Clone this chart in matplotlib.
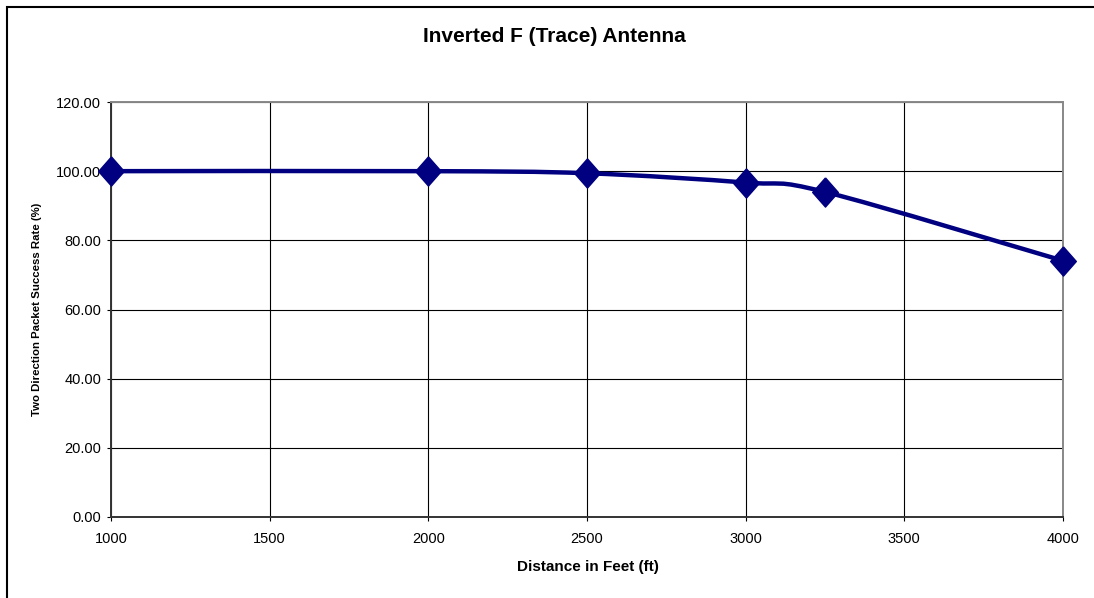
import matplotlib
matplotlib.use("Agg")
import matplotlib.pyplot as plt
import numpy as np
from matplotlib.path import Path
from matplotlib.patches import PathPatch, Rectangle
from matplotlib.ticker import FormatStrFormatter

plt.rcParams['font.family'] = ['Liberation Sans', 'DejaVu Sans']

# Data
distance_ft = [1000, 2000, 2500, 3000, 3250, 4000]
success_rate = [100.0, 100.0, 99.4, 96.7, 94.0, 74.1]
x_ticks = [1000, 1500, 2000, 2500, 3000, 3500, 4000]
y_ticks = [0, 20, 40, 60, 80, 100, 120]
title = "Inverted F (Trace) Antenna"
x_label = "Distance in Feet (ft)"
y_label = "Two Direction Packet Success Rate (%)"

W, H = 1094, 598
fig = plt.figure(figsize=(W / 100, H / 100), dpi=100)
fig.patch.set_facecolor('white')

ax = fig.add_axes([111 / W, 1 - 517 / H, (1063 - 111) / W, (517 - 102) / H])
ax.set_xlim(1000, 4000)
ax.set_ylim(0, 120)
ax.set_xticks(x_ticks)
ax.set_yticks(y_ticks)
ax.yaxis.set_major_formatter(FormatStrFormatter('%.2f'))
ax.grid(True, color='black', linewidth=0.8)
ax.set_axisbelow(True)
ax.tick_params(axis='both', direction='out', length=3, width=0.8, labelsize=10.5, colors='black')
ax.tick_params(axis='x', pad=8)
ax.tick_params(axis='y', pad=4)
for s in ['left', 'bottom']:
    ax.spines[s].set_color('#333333')
    ax.spines[s].set_linewidth(1.4)
for s in ['top', 'right']:
    ax.spines[s].set_color('#888888')
    ax.spines[s].set_linewidth(1.4)

# Smoothed line (Catmull-Rom style Bezier, like Excel's smoothed line)
P = np.column_stack([distance_ft, success_rate]).astype(float)
n = len(P)
verts = [tuple(P[0])]
codes = [Path.MOVETO]
for i in range(n - 1):
    p0 = P[i - 1] if i > 0 else P[i]
    p3 = P[i + 2] if i + 2 < n else P[i + 1]
    c1 = P[i] + (P[i + 1] - p0) / 6.0
    c2 = P[i + 1] - (p3 - P[i]) / 6.0
    verts += [tuple(c1), tuple(c2), tuple(P[i + 1])]
    codes += [Path.CURVE4] * 3
ax.add_patch(PathPatch(Path(verts, codes), facecolor='none', edgecolor='#000080',
                       linewidth=3.2, capstyle='round', joinstyle='round', zorder=3))

diamond = [(0, 1), (0.88, 0), (0, -1), (-0.88, 0), (0, 1)]
ax.plot(distance_ft, success_rate, linestyle='none', marker=diamond, markersize=21,
        color='#000080', markeredgecolor='#000080', markeredgewidth=1.0, zorder=4, clip_on=False)

fig.text(554 / W, 1 - 37 / H, title, ha='center', va='center', fontsize=15, fontweight='bold')
fig.text(587.5 / W, 1 - 567 / H, x_label, ha='center', va='center', fontsize=11, fontweight='bold')
fig.text(37 / W, 1 - 309.5 / H, y_label, ha='center', va='center', rotation=90, fontsize=8.2, fontweight='bold')

fig.patches.append(Rectangle((7 / W, -0.05), 1.2, 1 - 6.5 / H + 0.05, transform=fig.transFigure,
                             facecolor='none', edgecolor='black', linewidth=1.5, figure=fig))

fig.savefig('out.png', dpi=100)
